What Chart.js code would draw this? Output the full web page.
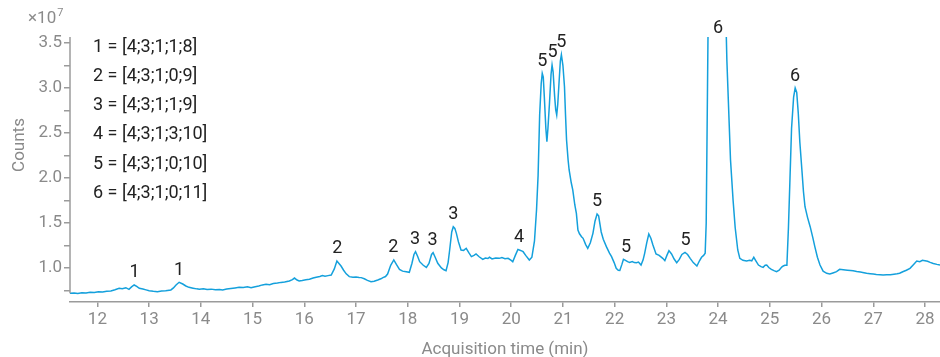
<!DOCTYPE html>
<html>
<head>
<meta charset="utf-8">
<title>Chromatogram</title>
<script src="https://cdn.jsdelivr.net/npm/chart.js@4.4.1/dist/chart.umd.min.js"></script>
<style>
  html, body { margin: 0; padding: 0; background: #ffffff; }
  canvas { display: block; }
</style>
</head>
<body>
<canvas id="chrom" width="940" height="357"></canvas>
<script>
// Retention time (min) and signal (counts, in units of 10^7)
const times = [
  11.47, 11.55, 11.62, 11.70, 11.78, 11.86, 11.94, 12.02, 12.10, 12.18,
  12.26, 12.34, 12.42, 12.48, 12.55, 12.61, 12.66, 12.71, 12.76, 12.81,
  12.88, 12.94, 13.00, 13.08, 13.16, 13.24, 13.32, 13.42, 13.47, 13.52,
  13.58, 13.65, 13.71, 13.77, 13.85, 13.92, 13.97, 14.05, 14.12, 14.20,
  14.28, 14.36, 14.42, 14.50, 14.58, 14.66, 14.74, 14.82, 14.90, 14.97,
  15.05, 15.12, 15.19, 15.26, 15.33, 15.40, 15.48, 15.55, 15.62, 15.71,
  15.77, 15.81, 15.86, 15.90, 15.96, 16.03, 16.10, 16.17, 16.23, 16.30,
  16.35, 16.40, 16.46, 16.52, 16.58, 16.63, 16.67, 16.71, 16.76, 16.81,
  16.87, 16.94, 17.00, 17.06, 17.10, 17.16, 17.22, 17.29, 17.35, 17.42,
  17.48, 17.52, 17.57, 17.61, 17.67, 17.73, 17.78, 17.84, 17.90, 17.97,
  18.03, 18.08, 18.12, 18.15, 18.19, 18.23, 18.30, 18.36, 18.41, 18.46,
  18.49, 18.53, 18.58, 18.65, 18.70, 18.74, 18.78, 18.81, 18.85, 18.88,
  18.91, 18.94, 18.98, 19.03, 19.08, 19.13, 19.18, 19.23, 19.28, 19.32,
  19.38, 19.45, 19.50, 19.55, 19.58, 19.63, 19.70, 19.77, 19.82, 19.88,
  19.94, 20.00, 20.03, 20.08, 20.13, 20.18, 20.23, 20.28, 20.35, 20.40,
  20.45, 20.49, 20.52, 20.55, 20.58, 20.60, 20.62, 20.64, 20.67, 20.69,
  20.71, 20.74, 20.77, 20.79, 20.81, 20.84, 20.86, 20.88, 20.90, 20.92,
  20.95, 20.97, 21.00, 21.03, 21.05, 21.07, 21.10, 21.12, 21.16, 21.19,
  21.23, 21.26, 21.29, 21.32, 21.36, 21.39, 21.44, 21.48, 21.53, 21.58,
  21.62, 21.66, 21.69, 21.74, 21.78, 21.84, 21.90, 21.94, 21.99, 22.03,
  22.07, 22.10, 22.14, 22.17, 22.21, 22.25, 22.29, 22.34, 22.38, 22.42,
  22.46, 22.51, 22.55, 22.58, 22.62, 22.66, 22.70, 22.74, 22.80, 22.86,
  22.93, 22.97, 23.01, 23.05, 23.10, 23.15, 23.20, 23.25, 23.30, 23.36,
  23.41, 23.46, 23.52, 23.59, 23.64, 23.68, 23.72, 23.75, 23.77, 23.80,
  23.82, 23.97, 24.12, 24.17, 24.24, 24.29, 24.33, 24.38, 24.42, 24.48,
  24.55, 24.61, 24.65, 24.69, 24.73, 24.78, 24.83, 24.87, 24.91, 24.94,
  24.98, 25.03, 25.08, 25.13, 25.18, 25.23, 25.26, 25.29, 25.33, 25.36,
  25.39, 25.42, 25.46, 25.49, 25.52, 25.55, 25.58, 25.62, 25.65, 25.68,
  25.73, 25.78, 25.83, 25.87, 25.92, 25.97, 26.03, 26.10, 26.16, 26.22,
  26.29, 26.35, 26.42, 26.50, 26.56, 26.61, 26.68, 26.75, 26.82, 26.87,
  26.94, 27.00, 27.06, 27.13, 27.19, 27.26, 27.33, 27.40, 27.46, 27.51,
  27.57, 27.64, 27.71, 27.78, 27.84, 27.90, 27.95, 28.00, 28.05, 28.10,
  28.16, 28.23, 28.29
];
const counts = [
  0.718, 0.722, 0.716, 0.725, 0.722, 0.731, 0.728, 0.737, 0.733, 0.741,
  0.745, 0.758, 0.774, 0.770, 0.781, 0.763, 0.790, 0.811, 0.795, 0.774,
  0.766, 0.757, 0.748, 0.741, 0.737, 0.745, 0.748, 0.756, 0.778, 0.811,
  0.841, 0.822, 0.800, 0.785, 0.776, 0.768, 0.763, 0.768, 0.760, 0.765,
  0.758, 0.762, 0.756, 0.766, 0.772, 0.778, 0.785, 0.782, 0.790, 0.780,
  0.792, 0.800, 0.812, 0.819, 0.815, 0.828, 0.833, 0.840, 0.845, 0.856,
  0.870, 0.888, 0.866, 0.856, 0.862, 0.870, 0.874, 0.888, 0.897, 0.905,
  0.915, 0.908, 0.915, 0.922, 0.990, 1.078, 1.050, 1.022, 0.975, 0.935,
  0.904, 0.898, 0.900, 0.895, 0.893, 0.880, 0.862, 0.848, 0.852, 0.866,
  0.880, 0.893, 0.905, 0.933, 1.030, 1.089, 1.040, 0.985, 0.965, 0.959,
  0.952, 1.050, 1.150, 1.181, 1.130, 1.070, 1.030, 1.007, 1.050, 1.150,
  1.170, 1.120, 1.052, 1.000, 0.980, 0.970, 1.060, 1.200, 1.400, 1.459,
  1.440, 1.385, 1.290, 1.200, 1.195, 1.219, 1.170, 1.126, 1.140, 1.156,
  1.125, 1.096, 1.110, 1.105, 1.119, 1.100, 1.112, 1.107, 1.115, 1.104,
  1.108, 1.085, 1.070, 1.140, 1.207, 1.195, 1.181, 1.140, 1.089, 1.120,
  1.300, 1.650, 2.030, 2.700, 3.050, 3.163, 3.120, 2.904, 2.550, 2.404,
  2.550, 2.830, 3.150, 3.256, 3.180, 2.904, 2.760, 2.700, 2.820, 3.015,
  3.300, 3.370, 3.250, 3.015, 2.700, 2.422, 2.200, 2.089, 1.950, 1.867,
  1.700, 1.607, 1.422, 1.380, 1.348, 1.330, 1.260, 1.219, 1.280, 1.385,
  1.520, 1.600, 1.580, 1.400, 1.320, 1.237, 1.165, 1.126, 1.060, 0.996,
  0.975, 0.972, 1.040, 1.096, 1.085, 1.070, 1.062, 1.072, 1.060, 1.059,
  1.066, 1.033, 1.090, 1.163, 1.280, 1.378, 1.330, 1.256, 1.156, 1.140,
  1.107, 1.081, 1.140, 1.193, 1.156, 1.100, 1.059, 1.095, 1.150, 1.174,
  1.150, 1.107, 1.060, 1.022, 1.080, 1.119, 1.140, 1.163, 1.500, 3.300,
  4.500, 6.500, 4.500, 3.300, 2.200, 1.750, 1.450, 1.200, 1.107, 1.085,
  1.078, 1.085, 1.080, 1.119, 1.080, 1.033, 1.015, 1.007, 1.030, 1.033,
  1.005, 0.985, 0.970, 0.959, 0.975, 1.010, 1.022, 1.030, 1.030, 1.450,
  2.000, 2.550, 2.900, 3.000, 2.950, 2.720, 2.400, 2.089, 1.850, 1.681,
  1.560, 1.459, 1.340, 1.237, 1.120, 1.033, 0.965, 0.941, 0.933, 0.945,
  0.959, 0.985, 0.980, 0.975, 0.972, 0.970, 0.962, 0.955, 0.948, 0.941,
  0.936, 0.932, 0.928, 0.925, 0.922, 0.926, 0.925, 0.930, 0.935, 0.941,
  0.958, 0.975, 0.996, 1.040, 1.078, 1.070, 1.085, 1.080, 1.075, 1.062,
  1.050, 1.040, 1.033
];

// Axis ticks
const xTicks = [12, 13, 14, 15, 16, 17, 18, 19, 20, 21, 22, 23, 24, 25, 26, 27, 28];
const yTicks = [0.75, 1.0, 1.25, 1.5, 1.75, 2.0, 2.25, 2.5, 2.75, 3.0, 3.25, 3.5];

// Peak assignments: tag and retention time
const peakTags  = ['1', '1', '2', '2', '3', '3', '3', '4', '5', '5', '5', '5', '5', '5', '6', '6'];
const peakTimes = [12.72, 13.58, 16.64, 17.72, 18.14, 18.48, 18.88, 20.15, 20.60, 20.80, 20.97, 21.66, 22.22, 23.37, 24.00, 25.49];

// Compound key
const compoundKey = [
  '1 = [4;3;1;1;8]',
  '2 = [4;3;1;0;9]',
  '3 = [4;3;1;1;9]',
  '4 = [4;3;1;3;10]',
  '5 = [4;3;1;0;10]',
  '6 = [4;3;1;0;11]'
];

const FONT = 'Roboto, "Noto Sans", sans-serif';
const TRACE = '#14a0dc';
const GREY = '#8a8a8a';
const AXIS = '#9b9b9b';
const INK = '#222222';

Chart.defaults.font.family = FONT;

const decorations = {
  id: 'decorations',
  afterDatasetsDraw(chart) {
    const { ctx, chartArea: a, scales: { x, y } } = chart;
    ctx.save();

    // y axis line, stopping just below the lowest minor tick
    ctx.strokeStyle = AXIS;
    ctx.lineWidth = 1.5;
    ctx.beginPath();
    ctx.moveTo(a.left, y.getPixelForValue(0.72));
    ctx.lineTo(a.left, a.top);
    ctx.stroke();

    // exponent marker
    ctx.fillStyle = GREY;
    ctx.textBaseline = 'middle';
    ctx.textAlign = 'left';
    ctx.font = '17px ' + FONT;
    const base = '\u00d710';
    ctx.fillText(base, 28, 19);
    const w = ctx.measureText(base).width;
    ctx.font = '11px ' + FONT;
    ctx.fillText('7', 28 + w + 1, 13);

    // y axis title
    ctx.save();
    ctx.translate(20, 145);
    ctx.rotate(-Math.PI / 2);
    ctx.textAlign = 'center';
    ctx.font = '17px ' + FONT;
    ctx.fillText('Counts', 0, 0);
    ctx.restore();

    // compound key
    ctx.fillStyle = INK;
    ctx.textAlign = 'left';
    ctx.font = '18px ' + FONT;
    compoundKey.forEach((line, i) => {
      ctx.fillText(line, 93, 47 + i * 29.3);
    });

    // peak tags above the trace
    ctx.textAlign = 'center';
    ctx.font = '18px ' + FONT;
    peakTags.forEach((tag, i) => {
      const t = peakTimes[i];
      let top = -Infinity;
      times.forEach((tt, j) => {
        if (Math.abs(tt - t) <= 0.05) top = Math.max(top, counts[j]);
      });
      const py = Math.max(y.getPixelForValue(top), a.top + 3.5);
      ctx.fillText(tag, x.getPixelForValue(t), py - 12);
    });

    ctx.restore();
  }
};

new Chart(document.getElementById('chrom'), {
  type: 'line',
  data: {
    datasets: [{
      data: times.map((t, i) => ({ x: t, y: counts[i] })),
      borderColor: TRACE,
      borderWidth: 1.5,
      pointRadius: 0,
      tension: 0,
      fill: false
    }]
  },
  options: {
    responsive: false,
    animation: false,
    devicePixelRatio: 1,
    layout: { padding: { top: 37, right: 0, bottom: 0, left: 0 } },
    plugins: { legend: { display: false }, tooltip: { enabled: false } },
    scales: {
      x: {
        type: 'linear',
        min: 11.47,
        max: 28.29,
        afterBuildTicks: s => { s.ticks = xTicks.map(v => ({ value: v })); },
        afterFit: s => { s.height = 55; },
        grid: { drawOnChartArea: false, tickLength: 5, color: AXIS, lineWidth: 1.5 },
        border: { color: AXIS, width: 1.5 },
        ticks: {
          color: GREY, font: { size: 17 }, padding: 3,
          autoSkip: false, maxRotation: 0,
          callback: v => String(v)
        },
        title: {
          display: true, text: 'Acquisition time (min)',
          color: GREY, font: { size: 17 }, padding: { top: 0, bottom: -3 }
        }
      },
      y: {
        type: 'linear',
        min: 0.622,
        max: 3.567,
        afterBuildTicks: s => { s.ticks = yTicks.map(v => ({ value: v })); },
        afterFit: s => { s.width = 70; },
        grid: { drawOnChartArea: false, tickLength: 6, color: AXIS, lineWidth: 1.5 },
        border: { display: false },
        ticks: {
          color: GREY, font: { size: 17 }, padding: 2, autoSkip: false,
          callback: v => (Math.abs(v * 2 - Math.round(v * 2)) < 1e-6 ? v.toFixed(1) : '')
        }
      }
    }
  },
  plugins: [decorations]
});
</script>
</body>
</html>
